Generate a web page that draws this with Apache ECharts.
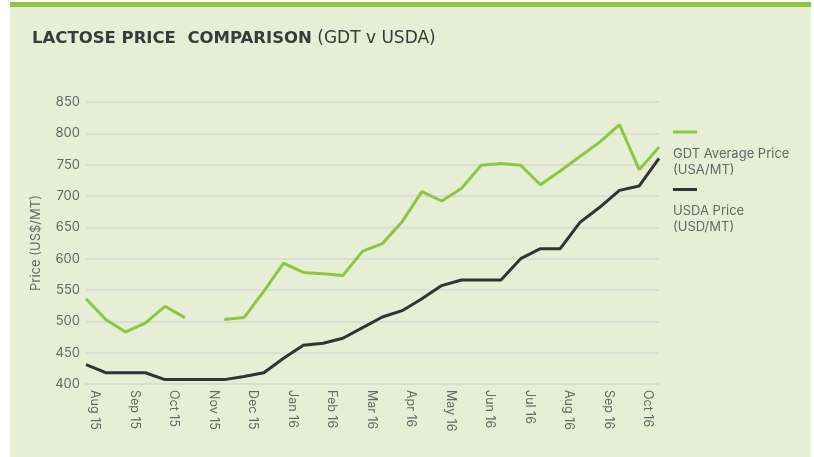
<!DOCTYPE html>
<html>
<head>
<meta charset="utf-8">
<style>
  html, body { margin: 0; padding: 0; background: #ffffff; }
  #panel {
    position: absolute; left: 10px; top: 2px; width: 801px; height: 450px;
    background: #e6efd5; border-top: 5px solid #8dc641;
  }
  #lactose-chart { position: absolute; left: 0; top: 0; width: 814px; height: 457px; }
</style>
<script src="https://cdn.jsdelivr.net/npm/echarts@6/dist/echarts.min.js"></script>
</head>
<body>
<div id="panel"></div>
<div id="lactose-chart"></div>
<script>
// month labels, one per month (two auctions per month)
var monthLabels = ["Aug 15", "Sep 15", "Oct 15", "Nov 15", "Dec 15", "Jan 16", "Feb 16",
  "Mar 16", "Apr 16", "May 16", "Jun 16", "Jul 16", "Aug 16", "Sep 16", "Oct 16"];

var gdtPrice = [536, 503, 483, 497, 524, 506, null, 503, 506, 548, 593, 578, 576, 573,
  612, 624, 659, 707, 692, 712, 749, 752, 749, 718, 740, 763, 786, 814, 742, 778];

var usdaPrice = [431, 418, 418, 418, 407, 407, 407, 407, 412, 418, 441, 462, 465, 473,
  490, 507, 517, 536, 557, 566, 566, 566, 600, 616, 616, 658, 682, 709, 716, 760];

var yTicks = { min: 400, max: 850, step: 50 };

var categories = [];
monthLabels.forEach(function (m) {
  categories.push(m);
  categories.push("");
});

var font = "Inter, 'Open Sans', sans-serif";
var titleFont = "'DejaVu Sans', sans-serif";

var chart = echarts.init(document.getElementById("lactose-chart"));
var option = {
  backgroundColor: "transparent",
  animation: false,
  title: {
    left: 27,
    top: 25,
    text: "{b|LACTOSE PRICE  COMPARISON}{n| (GDT v USDA)}",
    textStyle: {
      rich: {
        b: { fontFamily: titleFont, fontWeight: 900, fontSize: 16.5, color: "#3a3a3a" },
        n: { fontFamily: titleFont, fontWeight: 400, fontSize: 17, color: "#3a3a3a" }
      }
    }
  },
  legend: {
    orient: "vertical",
    left: 662,
    top: 121,
    itemWidth: 0,
    itemHeight: 0,
    itemGap: 7,
    selectedMode: false,
    data: ["GDT Average Price (USA/MT)", "USDA Price (USD/MT)"],
    formatter: function (name) {
      var key = name.indexOf("GDT") === 0 ? "g" : "k";
      var parts = name.split(" (");
      return "{" + key + "| }\n{t|" + parts[0] + "}\n{t|(" + parts[1] + "}";
    },
    textStyle: {
      rich: {
        g: { backgroundColor: "#8dc63f", width: 24, height: 3, lineHeight: 28 },
        k: { backgroundColor: "#333333", width: 24, height: 3, lineHeight: 28 },
        t: { fontFamily: font, fontSize: 13, color: "#666666", lineHeight: 16 }
      }
    }
  },
  grid: {
    left: 86,
    right: 155,
    top: 102,
    bottom: 73,
    containLabel: false
  },
  xAxis: {
    type: "category",
    boundaryGap: false,
    data: categories,
    axisLine: { lineStyle: { color: "#d6d9d2", width: 1.5 } },
    axisTick: { show: false },
    axisLabel: {
      interval: 0,
      rotate: -90,
      margin: 6,
      fontFamily: font,
      fontSize: 12.5,
      color: "#666666",
      lineHeight: 18,
      // second blank line nudges each label right of its point, as in the original
      formatter: function (v) {
        return v ? v + "\n " : "";
      }
    }
  },
  yAxis: {
    type: "value",
    min: yTicks.min,
    max: yTicks.max,
    interval: yTicks.step,
    name: "Price (US$/MT)",
    nameLocation: "middle",
    nameGap: 43,
    nameTextStyle: { fontFamily: font, fontSize: 13, color: "#666666" },
    axisLine: { show: false },
    axisTick: { show: false },
    axisLabel: { margin: 6, fontFamily: font, fontSize: 13, color: "#666666" },
    splitLine: { lineStyle: { color: "#d6d9d2", width: 1.5 } }
  },
  series: [
    {
      name: "GDT Average Price (USA/MT)",
      type: "line",
      data: gdtPrice,
      showSymbol: false,
      symbol: "none",
      connectNulls: false,
      lineStyle: { color: "#8dc63f", width: 3 },
      itemStyle: { color: "#8dc63f" }
    },
    {
      name: "USDA Price (USD/MT)",
      type: "line",
      data: usdaPrice,
      showSymbol: false,
      symbol: "none",
      lineStyle: { color: "#333333", width: 3 },
      itemStyle: { color: "#333333" }
    }
  ]
};
chart.setOption(option);
window.addEventListener("resize", function () {
  chart.resize();
});
</script>
</body>
</html>
